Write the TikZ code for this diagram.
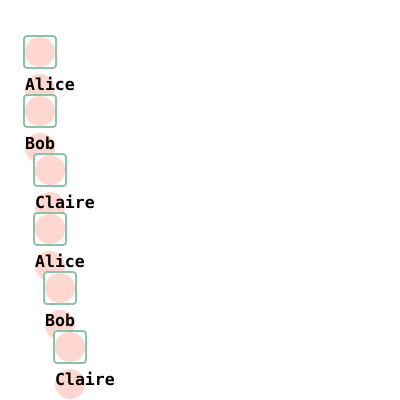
\documentclass[tikz,border=0pt]{standalone}
\usepackage{fontspec}
\newfontfamily\labelfont{DejaVu Sans Mono}
\definecolor{boxline}{HTML}{8CC2A6}
\definecolor{dotfill}{HTML}{FFD7D1}
\tikzset{
  itembox/.style={draw=boxline, line width=1.8pt, rounded corners=3pt, fill=white},
  dot/.style={circle, fill=dotfill, minimum size=30pt, inner sep=0pt},
  lbl/.style={anchor=base west, inner sep=0pt, font=\labelfont\bfseries\fontsize{16.5pt}{18pt}\selectfont}
}
\begin{document}
\begin{tikzpicture}[x=1pt,y=-1pt]
\useasboundingbox[fill=white] (0,0) rectangle (400,400);
\foreach \name/\lx/\ty [count=\i] in {Alice/24/36, Bob/24/95, Claire/34/154, Alice/34/213, Bob/44/272, Claire/54/331}{
  \node[dot] (ld\i) at (\lx+16,\ty+53) {};
  \draw[itembox] (\lx,\ty) rectangle (\lx+32,\ty+32);
  \node[dot] (bd\i) at (\lx+16,\ty+16) {};
  \node[lbl] (t\i) at (\lx+1,\ty+54) {\name};
}
\end{tikzpicture}
\end{document}
